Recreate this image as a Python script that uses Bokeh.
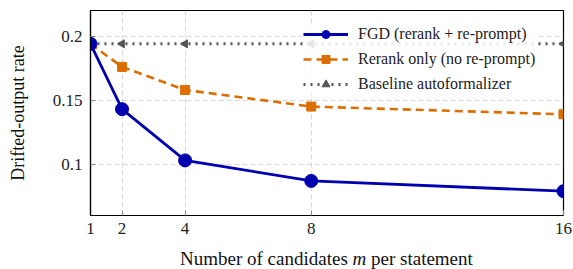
import math
from bokeh.plotting import figure
from bokeh.layouts import column
from bokeh.models import (Range1d, FixedTicker, Legend, LegendItem, Div)
from bokeh.embed import file_html
from bokeh.resources import INLINE

# ---- data ----
m_values = [1, 2, 4, 8, 16]
fgd_rate = [0.194, 0.143, 0.103, 0.087, 0.079]
rerank_rate = [0.194, 0.176, 0.158, 0.145, 0.139]
baseline_rate = [0.194, 0.194, 0.194, 0.194, 0.194]
x_ticks = [1, 2, 4, 8, 16]
y_ticks = [0.1, 0.15, 0.2]
y_tick_labels = {0.1: "0.1", 0.15: "0.15", 0.2: "0.2"}

BLUE = "#0000B0"
ORANGE = "#DB6E00"
GRAY = "#555555"
FONT = "Liberation Serif"

p = figure(width=573, height=249, output_backend="svg", toolbar_location=None, title=None,
           x_range=Range1d(1, 16), y_range=Range1d(0.06, 0.22),
           min_border_left=90, min_border_right=10, min_border_top=10, min_border_bottom=34)

p.outline_line_color = "black"
p.outline_line_width = 1.2

# axes
p.xaxis.ticker = FixedTicker(ticks=x_ticks)
p.yaxis.ticker = FixedTicker(ticks=y_ticks)
p.yaxis.major_label_overrides = {v: s for v, s in y_tick_labels.items()}
for ax in (p.xaxis[0], p.yaxis[0]):
    ax.axis_line_color = "black"
    ax.axis_line_width = 1.2
    ax.major_tick_in = 5
    ax.major_tick_out = 0
    ax.major_tick_line_color = "#888888"
    ax.minor_tick_line_color = None
    ax.major_label_text_font = FONT
    ax.major_label_text_font_size = "17px"
    ax.major_label_text_color = "#222222"
p.xaxis.major_label_standoff = 7
p.yaxis.major_label_standoff = 8

p.yaxis.axis_label = "Drifted-output rate"
p.yaxis.axis_label_text_font = FONT
p.yaxis.axis_label_text_font_size = "18px"
p.yaxis.axis_label_text_font_style = "normal"
p.yaxis.axis_label_text_color = "#111111"
p.yaxis.axis_label_standoff = 22

# grid
p.xgrid.grid_line_color = "#d8d8d8"
p.ygrid.grid_line_color = "#d8d8d8"
p.xgrid.grid_line_dash = "5 3"
p.ygrid.grid_line_dash = "5 3"

# series
l_base = p.line(m_values, baseline_rate, line_color=GRAY, line_width=3, line_dash="2 5")
s_base = p.scatter(m_values, baseline_rate, marker="triangle", angle=math.pi / 2, size=8,
                   fill_color=GRAY, line_color=GRAY)
l_rr = p.line(m_values, rerank_rate, line_color=ORANGE, line_width=2.6, line_dash="8 5")
s_rr = p.scatter(m_values, rerank_rate, marker="square", size=9, fill_color=ORANGE, line_color=ORANGE)
l_fgd = p.line(m_values, fgd_rate, line_color=BLUE, line_width=2.8)
s_fgd = p.scatter(m_values, fgd_rate, marker="circle", size=13, fill_color=BLUE, line_color=BLUE)

legend = Legend(items=[
    LegendItem(label="FGD (rerank + re-prompt)", renderers=[l_fgd, s_fgd]),
    LegendItem(label="Rerank only (no re-prompt)", renderers=[l_rr, s_rr]),
    LegendItem(label="Baseline autoformalizer", renderers=[l_base, s_base]),
], location=(213, 121))
legend.border_line_color = None
legend.background_fill_color = "white"
legend.background_fill_alpha = 0.85
legend.label_text_font = FONT
legend.label_text_font_size = "16px"
legend.label_text_color = "#222222"
legend.glyph_width = 45
legend.glyph_height = 20
legend.label_height = 20
legend.spacing = 5
legend.padding = 4
legend.label_standoff = 10
legend.margin = 0
p.add_layout(legend, "center")

# x-axis title (with italic m) as real HTML text below the plot
xlabel = Div(text="Number of candidates <i>m</i> per statement", width=573, height=20,
             margin=0,
             styles={"font-family": FONT, "font-size": "19px", "color": "#111111",
                     "line-height": "20px", "padding-left": "180px", "white-space": "nowrap"})

layout = column(p, xlabel, spacing=0)
open("out.html", "w").write(file_html(layout, INLINE))
